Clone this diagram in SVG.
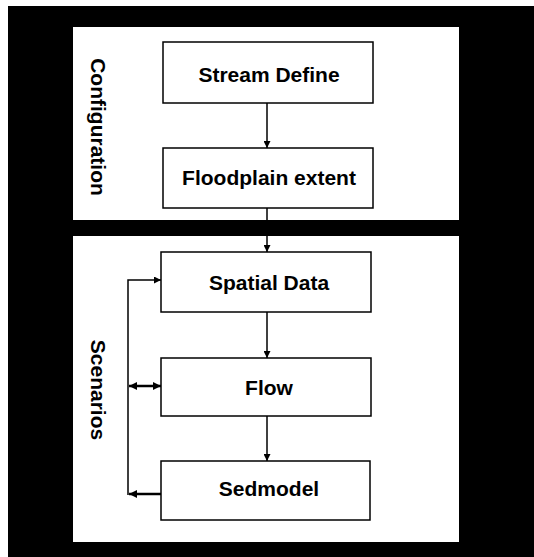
<svg xmlns="http://www.w3.org/2000/svg" width="534" height="557" viewBox="0 0 534 557">
<defs>
<style>
.box{fill:#fff;stroke:#000;stroke-width:1.5}
.lbl{font-family:"Liberation Sans",Arial,sans-serif;font-weight:bold;font-size:21px;fill:#000;text-anchor:middle}
.ln{fill:none;stroke:#000;stroke-width:1.5}
.thk{fill:none;stroke:#000;stroke-width:2.5}
</style>
<marker id="ah" viewBox="0 0 10 10" refX="10" refY="5" markerWidth="8" markerHeight="7" markerUnits="userSpaceOnUse" orient="auto-start-reverse">
<path d="M0,0 L10,5 L0,10 z" fill="#000"/>
</marker>
<marker id="ahb" viewBox="0 0 10 10" refX="10" refY="5" markerWidth="9" markerHeight="8" markerUnits="userSpaceOnUse" orient="auto-start-reverse">
<path d="M0,0 L10,5 L0,10 z" fill="#000"/>
</marker>
</defs>
<rect x="0" y="0" width="534" height="557" fill="#fff"/>
<rect x="8" y="6" width="526" height="551" fill="#000"/>
<g id="configuration">
<rect x="73" y="27" width="386" height="193" fill="#fff"/>
<text class="lbl" transform="translate(91,127) rotate(90)">Configuration</text>
</g>
<g id="scenarios">
<rect x="73" y="236" width="386" height="306" fill="#fff"/>
<text class="lbl" transform="translate(91,390) rotate(90)">Scenarios</text>
</g>
<g id="connectors">
<line class="ln" x1="267" y1="103" x2="267" y2="148" marker-end="url(#ah)"/>
<line class="ln" x1="267" y1="208" x2="267" y2="252" marker-end="url(#ah)"/>
<line class="ln" x1="267" y1="312" x2="267" y2="358" marker-end="url(#ah)"/>
<line class="ln" x1="267" y1="416" x2="267" y2="461" marker-end="url(#ah)"/>
<polyline class="ln" points="128,495 128,280 161,280" marker-end="url(#ah)"/>
<line class="thk" x1="129" y1="386" x2="161" y2="386" marker-start="url(#ahb)" marker-end="url(#ahb)"/>
<line class="thk" x1="161" y1="494" x2="129" y2="494" marker-end="url(#ahb)"/>
</g>
<g id="stream-define">
<rect class="box" x="163" y="42" width="210" height="61"/>
<text class="lbl" x="269" y="82">Stream Define</text>
</g>
<g id="floodplain-extent">
<rect class="box" x="163" y="148" width="210" height="60"/>
<text class="lbl" x="269" y="185">Floodplain extent</text>
</g>
<g id="spatial-data">
<rect class="box" x="161" y="252" width="210" height="60"/>
<text class="lbl" x="269" y="290">Spatial Data</text>
</g>
<g id="flow">
<rect class="box" x="161" y="358" width="210" height="58"/>
<text class="lbl" x="269" y="395">Flow</text>
</g>
<g id="sedmodel">
<rect class="box" x="161" y="461" width="209" height="59"/>
<text class="lbl" x="269" y="496">Sedmodel</text>
</g>
</svg>
